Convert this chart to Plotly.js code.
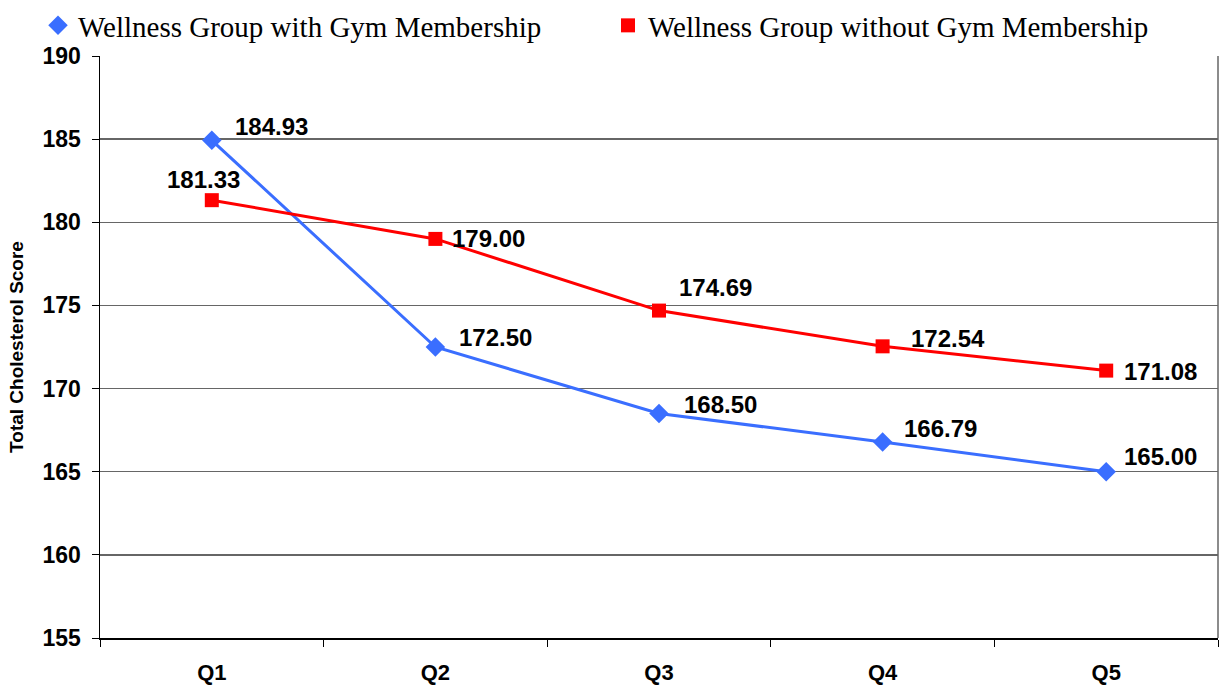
<!DOCTYPE html>
<html>
<head>
<meta charset="utf-8">
<script src="https://cdn.plot.ly/plotly-3.0.1.min.js"></script>
<style>html,body{margin:0;padding:0;background:#fff;}#chart{width:1220px;height:687px;}</style>
</head>
<body>
<div id="chart"></div>
<script>
const categories = ["Q1", "Q2", "Q3", "Q4", "Q5"];
const withGym = [184.93, 172.50, 168.50, 166.79, 165.00];
const withoutGym = [181.33, 179.00, 174.69, 172.54, 171.08];
const seriesNames = ["Wellness Group with Gym Membership", "Wellness Group without Gym Membership"];
const yTicks = [155, 160, 165, 170, 175, 180, 185, 190];

// label offsets (px) relative to each point: [dx, dy up]
const withGymOffsets = [[21, 14], [22, 10], [23, 9], [19, 13], [16, 15]];
const withoutGymOffsets = [[-47, 21], [15, 0], [18, 23], [26, 8], [16, -1]];

const blue = "#3A6EFF", red = "#FF0000";
const labelFont = {family: "Arial, Liberation Sans, sans-serif", size: 24, color: "#000", weight: "bold"};

const traces = [
  {
    x: categories, y: withGym, name: seriesNames[0], type: "scatter", mode: "lines+markers", showlegend: false,
    line: {color: blue, width: 3},
    marker: {symbol: "diamond", size: 15, color: blue}
  },
  {
    x: categories, y: withoutGym, name: seriesNames[1], type: "scatter", mode: "lines+markers", showlegend: false,
    line: {color: red, width: 3},
    marker: {symbol: "square", size: 14, color: red}
  },
  {
    x: [categories[0]], y: [null], name: seriesNames[0], type: "scatter", mode: "markers", legend: "legend",
    marker: {symbol: "diamond", size: 15, color: blue}, hoverinfo: "skip"
  },
  {
    x: [categories[0]], y: [null], name: seriesNames[1], type: "scatter", mode: "markers", legend: "legend2",
    marker: {symbol: "square", size: 14, color: red}, hoverinfo: "skip"
  }
];

const annotations = [];
function addLabels(vals, offs) {
  vals.forEach((v, i) => {
    annotations.push({
      x: categories[i], y: v, xref: "x", yref: "y", text: v.toFixed(2), showarrow: false,
      xanchor: "left", yanchor: "middle", xshift: offs[i][0], yshift: offs[i][1],
      font: labelFont
    });
  });
}
addLabels(withGym, withGymOffsets);
addLabels(withoutGym, withoutGymOffsets);

const legendFont = {family: "Times New Roman, Liberation Serif, serif", size: 29, color: "#000"};

const layout = {
  width: 1220, height: 687,
  margin: {l: 100, r: 2, t: 56, b: 49},
  paper_bgcolor: "#fff", plot_bgcolor: "#fff",
  showlegend: true,
  legend: {
    orientation: "h", xref: "container", yref: "container", x: 38 / 1220, y: 1.0, xanchor: "left", yanchor: "top",
    font: legendFont, itemwidth: 30, bgcolor: "rgba(0,0,0,0)"
  },
  legend2: {
    orientation: "h", xref: "container", yref: "container", x: 608 / 1220, y: 1.0, xanchor: "left", yanchor: "top",
    font: legendFont, itemwidth: 30, bgcolor: "rgba(0,0,0,0)"
  },
  xaxis: {
    type: "category", tickson: "boundaries", ticks: "outside", ticklen: 7, tickcolor: "#000", tickwidth: 1,
    showline: true, linecolor: "#000", linewidth: 1.5, showgrid: false, zeroline: false,
    ticklabelstandoff: 14, range: [-0.5, 4.5], fixedrange: true, automargin: false,
    tickfont: {family: "Arial, Liberation Sans, sans-serif", size: 22, color: "#000", weight: "bold"}
  },
  yaxis: {
    range: [155, 190], tickvals: yTicks, ticks: "outside", ticklen: 7, tickcolor: "#000",
    showline: true, linecolor: "#000", linewidth: 1.5, mirror: false,
    showgrid: true, gridcolor: "#666666", gridwidth: 1.5, zeroline: false,
    ticklabelstandoff: 6,
    tickfont: {family: "Arial, Liberation Sans, sans-serif", size: 23, color: "#000", weight: "bold"},
    title: {text: "Total Cholesterol Score", standoff: 14,
      font: {family: "Arial, Liberation Sans, sans-serif", size: 19, color: "#000", weight: "bold"}},
    automargin: false
  },
  shapes: [
    {type: "line", xref: "paper", yref: "paper", x0: 1, x1: 1, y0: 0, y1: 1, line: {color: "#666666", width: 1.5}}
  ],
  annotations: annotations
};

Plotly.newPlot("chart", traces, layout, {displayModeBar: false, staticPlot: true});
</script>
</body>
</html>
